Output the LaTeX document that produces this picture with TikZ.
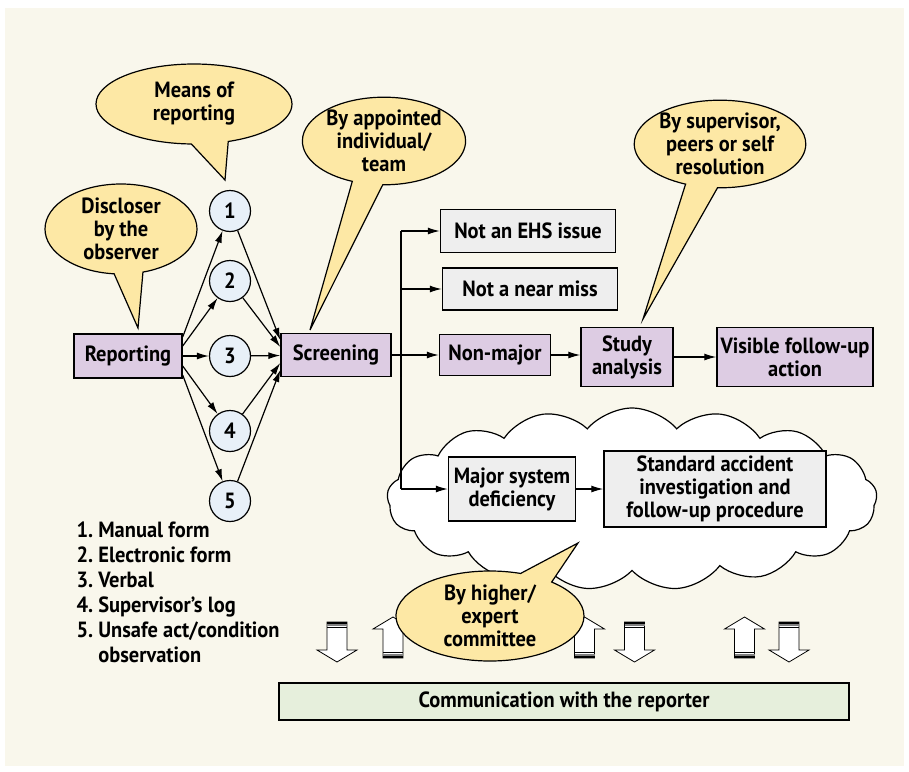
\documentclass[tikz,border=0pt]{standalone}
\usepackage{fontspec}
\setmainfont[FakeStretch=0.93]{PT Sans}
\usetikzlibrary{shapes.callouts,shapes.symbols,arrows.meta}

\definecolor{cream}{HTML}{F9F7EC}
\definecolor{bubbleyellow}{HTML}{FDE8A5}
\definecolor{boxpurple}{HTML}{DDCCE3}
\definecolor{boxgray}{HTML}{EEEEEE}
\definecolor{numblue}{HTML}{E8F0F8}
\definecolor{commgreen}{HTML}{E6EFDC}

\begin{document}
\begin{tikzpicture}[x=1pt,y=-1pt,
    font=\bfseries\fontsize{22}{23}\selectfont,
    box/.style={draw,line width=1.4pt,align=center,inner sep=2pt},
    purplebox/.style={box,fill=boxpurple},
    graybox/.style={box,fill=boxgray},
    num/.style={circle,draw,line width=1.2pt,fill=numblue,minimum size=41pt,inner sep=0pt},
    bubble/.style={ellipse callout,draw,line width=1.2pt,fill=bubbleyellow,align=center,inner sep=0pt,callout pointer arc=22},
    link/.style={line width=1.2pt,-{Latex[length=12pt,width=7pt]}}]
    \useasboundingbox (0,0) rectangle (909,771);
    \fill[cream] (5,8) rectangle (904,766);
    \node[cloud,draw,line width=1.2pt,fill=white,cloud puffs=17,cloud puff arc=100,aspect=2.7,minimum width=490pt,minimum height=182pt,inner sep=0pt] (cld) at (632,499) {};
    \foreach \x in {337,634.5,789}{
        \draw[fill=white,line width=0.8pt] (\x-10,622) -- (\x+10,622) -- (\x+10,650) -- (\x+20,650) -- (\x,662) -- (\x-20,650) -- (\x-10,650) -- cycle;
        \draw[line width=1.6pt] (\x-10,623) -- (\x+10,623);
        \draw[gray,line width=1.6pt] (\x-10,625) -- (\x+10,625);
        \draw[line width=1.6pt] (\x-10,627.5) -- (\x+10,627.5);
    }
    \foreach \x in {393,584.5,744.5}{
        \draw[fill=white,line width=0.8pt] (\x-10,658) -- (\x+10,658) -- (\x+10,629) -- (\x+20,629) -- (\x,617) -- (\x-20,629) -- (\x-10,629) -- cycle;
        \draw[line width=1.6pt] (\x-10,657) -- (\x+10,657);
        \draw[gray,line width=1.6pt] (\x-10,655) -- (\x+10,655);
        \draw[line width=1.6pt] (\x-10,652.5) -- (\x+10,652.5);
    }
    \node[purplebox,minimum width=108pt,minimum height=44pt] (rep) at (128,356) {Reporting};
    \foreach \i/\y in {1/211,2/281,3/356,4/431,5/501}
        \node[num] (c\i) at (230,\y) {\i};
    \node[purplebox,minimum width=110pt,minimum height=43pt] (scr) at (336,355) {Screening};
    \node[graybox,minimum width=175pt,minimum height=43pt] (nehs) at (528,231) {Not an EHS issue};
    \node[graybox,minimum width=175pt,minimum height=42pt] (nnm) at (530,289) {Not a near miss};
    \node[purplebox,minimum width=111pt,minimum height=41pt] (nmj) at (495,355) {Non-major};
    \node[purplebox,minimum width=92pt,minimum height=59pt] (stu) at (627,357) {Study\\analysis};
    \node[purplebox,minimum width=156pt,minimum height=59pt] (vis) at (795,357) {Visible follow-up\\action};
    \node[graybox,minimum width=127pt,minimum height=64pt] (msd) at (512,489) {Major system\\deficiency};
    \node[graybox,minimum width=222pt,minimum height=76pt] (sai) at (715,489) {Standard accident\\investigation and\\follow-up procedure};
    \node[box,fill=commgreen,minimum width=570pt,minimum height=37pt] (com) at (564,701.5) {Communication with the reporter};
    \node[anchor=north west,align=left,font=\bfseries\fontsize{22}{25}\selectfont] (legend) at (73,518) {1.~Manual form\\2.~Electronic form\\3.~Verbal\\4.~Supervisor’s log\\5.~Unsafe act/condition\\\phantom{5.~}observation};
    \draw[link] ([yshift=19pt]rep.east) -- (c1);
    \draw[link] ([yshift=10pt]rep.east) -- (c2);
    \draw[link] (rep) -- (c3);
    \draw[link] ([yshift=-10pt]rep.east) -- (c4);
    \draw[link] ([yshift=-19pt]rep.east) -- (c5);
    \draw[link] (c1) -- ([yshift=15pt]scr.west);
    \draw[link] (c2) -- ([yshift=8pt]scr.west);
    \draw[link] (c3) -- (scr);
    \draw[link] (c4) -- ([yshift=-8pt]scr.west);
    \draw[link] (c5) -- ([yshift=-15pt]scr.west);
    \coordinate (sp) at (401,355);
    \draw[line width=1.2pt] (sp |- nehs) -- (sp |- msd);
    \draw[link] (sp |- nehs) -- (nehs);
    \draw[link] (sp |- nnm) -- (nnm.west);
    \draw[link] (scr) -- (nmj);
    \draw[link] (sp |- msd) -- (msd);
    \draw[link] (nmj) -- (stu.west |- nmj);
    \draw[link] (stu) -- (vis);
    \draw[link] (msd) -- (sai);
    \node[bubble,minimum width=196pt,minimum height=80pt,callout absolute pointer={(225,180)}] (means) at (194,104) {Means of\\reporting};
    \node[bubble,minimum width=152pt,minimum height=90pt,callout absolute pointer={(138,328)}] (discl) at (121,229) {Discloser\\by the\\observer};
    \node[bubble,minimum width=157pt,minimum height=86pt,callout absolute pointer={(310,330)}] (appt) at (384,141) {By appointed\\individual/\\team};
    \node[bubble,minimum width=166pt,minimum height=86pt,callout absolute pointer={(643,319)}] (superv) at (720,144) {By supervisor,\\peers or self\\resolution};
    \node[bubble,minimum width=188pt,minimum height=90pt,callout absolute pointer={(578,543)}] (higher) at (490,616) {By higher/\\expert\\committee};
\end{tikzpicture}
\end{document}
